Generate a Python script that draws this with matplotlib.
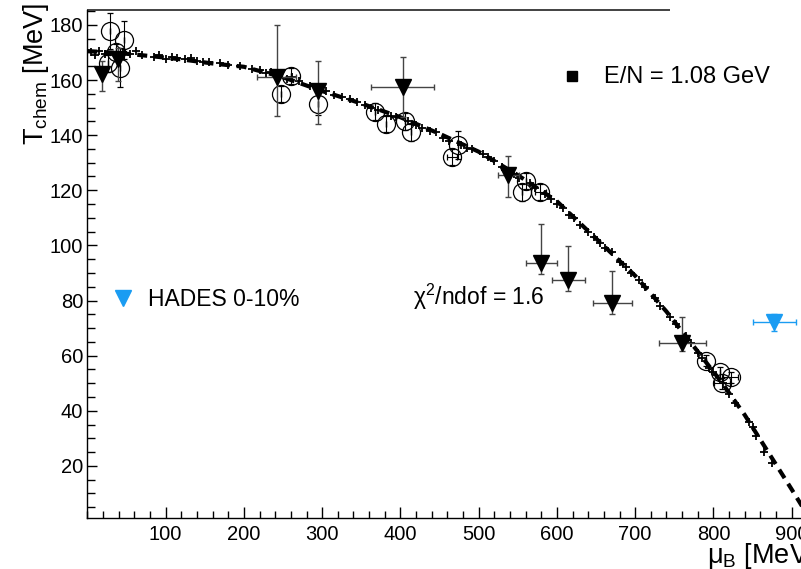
import matplotlib
matplotlib.use("Agg")
import matplotlib.pyplot as plt
from matplotlib.ticker import MultipleLocator

plt.rcParams['font.family'] = ['Liberation Sans', 'DejaVu Sans']
plt.rcParams['mathtext.fontset'] = 'custom'
plt.rcParams['mathtext.rm'] = 'Liberation Sans'
plt.rcParams['mathtext.it'] = 'Liberation Sans:italic'

# dashed freeze-out curve
curve_mu = [0, 40, 80, 120, 160, 200, 250, 300, 350, 400, 450, 500, 550, 600,
            650, 700, 740, 780, 810, 840, 860, 880, 900, 925]
curve_T = [170.5, 169.8, 168.7, 167.5, 166, 164.8, 161, 156, 151.5, 146.5, 140.5,
           134, 125.5, 116, 102.5, 89, 76, 61.5, 50.5, 38.5, 29.5, 20.5, 11.5, 0]

# small model points, E/N = 1.08 GeV
model_mu = [5, 10, 15, 22, 45, 55, 62, 70, 85, 92, 100, 108, 115, 125, 132, 140, 148,
            155, 170, 180, 195, 210, 220, 228, 235, 255, 262, 270, 285, 305, 315, 325,
            335, 345, 355, 362, 372, 388, 395, 410, 420, 428, 438, 445, 455, 462, 478,
            485, 492, 505, 512, 520, 530, 545, 552, 565, 572, 585, 592, 600, 608, 615,
            622, 630, 640, 648, 655, 662, 670, 680, 688, 695, 705, 712, 725, 732, 745,
            752, 765, 772, 780, 785, 795, 800, 812, 820, 828, 845, 850, 855, 865, 875]
model_T = [170, 169, 170.5, 169.5, 170, 169.5, 170.5, 169, 168.5, 169, 167.5, 168.5,
           168, 167.5, 168, 167, 166.5, 166.5, 166, 165.5, 165, 164, 163.5, 162.5, 163,
           160.5, 161, 159.5, 158, 156, 154.5, 154, 153, 152, 151, 150, 149, 147, 146.5,
           145, 143.5, 142.5, 141.5, 141, 139, 138, 136.5, 135.5, 135, 133, 132, 130.5,
           128.5, 126, 124.5, 122.5, 121, 118.5, 117, 115, 113.5, 111, 110, 107.5, 105,
           103, 101, 99, 97.5, 94, 92, 90, 87.5, 85, 81, 78, 74, 71.5, 67, 64.5, 61, 59,
           55.5, 54, 50, 46, 43, 36, 34, 31, 25, 21]

# open circles (data)
circ_mu = [29, 47, 36, 26, 42, 247, 260, 295, 367, 381, 406, 414, 466, 473,
           555, 561, 579, 791, 808, 811, 822]
circ_T = [177.8, 174.5, 170, 166, 164.5, 155, 161.5, 151.3, 148.5, 144, 145, 141, 132,
          136.5, 119.2, 123.4, 119.4, 58.2, 53.9, 50, 52.1]
circ_Terr = [6.5, 7, 3, 3, 7, 3, 3, 4, 3, 3, 3, 3, 3, 5, 3, 3, 3, 2, 2, 2, 2]
circ_muerr = [0, 0, 0, 0, 0, 0, 0, 0, 0, 0, 0, 0, 6, 0, 0, 0, 7, 0, 0, 10, 10]

# filled triangles (data)
tri_mu = [19, 39, 242, 295, 403, 538, 580, 614.5, 671, 760]
tri_T = [162, 167.5, 161, 156, 157.5, 125.5, 93.7, 87.3, 79.2, 64.6]
tri_Tlo = [6, 8, 14, 12, 11, 8, 4, 4, 4, 3]
tri_Thi = [5, 4, 19, 11, 11, 7, 14, 12.5, 11.5, 9.5]
tri_muerr = [0, 0, 25, 0, 40, 13, 20, 21, 25, 30]

# HADES 0-10 %
hades_mu = [877.7]
hades_T = [72.1]
hades_Terr = [3]
hades_muerr = [27.7]

W, H = 801, 569
fig = plt.figure(figsize=(W / 100, H / 100), dpi=100)
ax = fig.add_axes([87.4 / W, (H - 518) / H, 782.5 / W, 508 / H])

ax.plot(curve_mu, curve_T, color='black', lw=3, dashes=(2.4, 1.6), zorder=3)
ax.plot(model_mu, model_T, '+', color='black', ms=5.5, mew=1.3, zorder=4)

ax.errorbar(circ_mu, circ_T, yerr=circ_Terr, xerr=circ_muerr, fmt='o', ms=13,
            mfc='none', mec='black', mew=0.9, ecolor='black', elinewidth=0.8,
            capsize=2, capthick=0.8, zorder=5)
ax.errorbar(tri_mu, tri_T, yerr=[tri_Tlo, tri_Thi], xerr=tri_muerr, fmt='v', ms=12,
            color='black', ecolor='#444444', elinewidth=1.0, capsize=2, capthick=1.0,
            zorder=6)
ax.errorbar(hades_mu, hades_T, yerr=hades_Terr, xerr=hades_muerr, fmt='v', ms=11,
            color='#1a9cf2', ecolor='#1a9cf2', elinewidth=1.0, capsize=2, capthick=1.0,
            zorder=6)

ax.set_xlim(0, 1000)
ax.set_ylim(1.1, 185.4)
ax.xaxis.set_minor_locator(MultipleLocator(20))
ax.yaxis.set_minor_locator(MultipleLocator(5))
ax.set_xticks([100, 200, 300, 400, 500, 600, 700, 800, 900])
ax.set_yticks([20, 40, 60, 80, 100, 120, 140, 160, 180])
ax.tick_params(which='both', direction='in', width=1.0, labelsize=14.5, top=False, right=False)
ax.tick_params(axis='x', which='major', length=8, pad=5)
ax.tick_params(axis='x', which='minor', length=5)
ax.tick_params(axis='y', which='major', length=7.5, pad=3)
ax.tick_params(axis='y', which='minor', length=5.5)
for s in ['top', 'right']:
    ax.spines[s].set_visible(False)
for s in ['left', 'bottom']:
    ax.spines[s].set_linewidth(1.0)
ax.hlines(185.4, 0, 744, color='#333333', lw=1.3, clip_on=False)

fig.text(36 / W, 1 - 3 / H, r'T$_{\rm chem}$ [MeV]', rotation=90, ha='center', va='top',
         fontsize=19.5)
fig.text(707 / W, 1 - 563 / H, r'μ$_{\rm B}$ [MeV]', ha='left', va='baseline', fontsize=19.5)

# legend-like labels
ax.plot([572 / W], [1 - 76 / H], 's', color='black', ms=7, transform=fig.transFigure,
        clip_on=False)
fig.text(604 / W, 1 - 77 / H, 'E/N = 1.08 GeV', ha='left', va='center', fontsize=17)
ax.plot([123 / W], [1 - 298 / H], 'v', color='#1a9cf2', ms=11, transform=fig.transFigure,
        clip_on=False)
fig.text(148 / W, 1 - 299 / H, 'HADES 0-10%', ha='left', va='center', fontsize=16.5)
fig.text(413 / W, 1 - 297 / H, 'χ$^{2}$/ndof = 1.6', ha='left', va='center', fontsize=16.5)

fig.savefig('out.png', dpi=100)
